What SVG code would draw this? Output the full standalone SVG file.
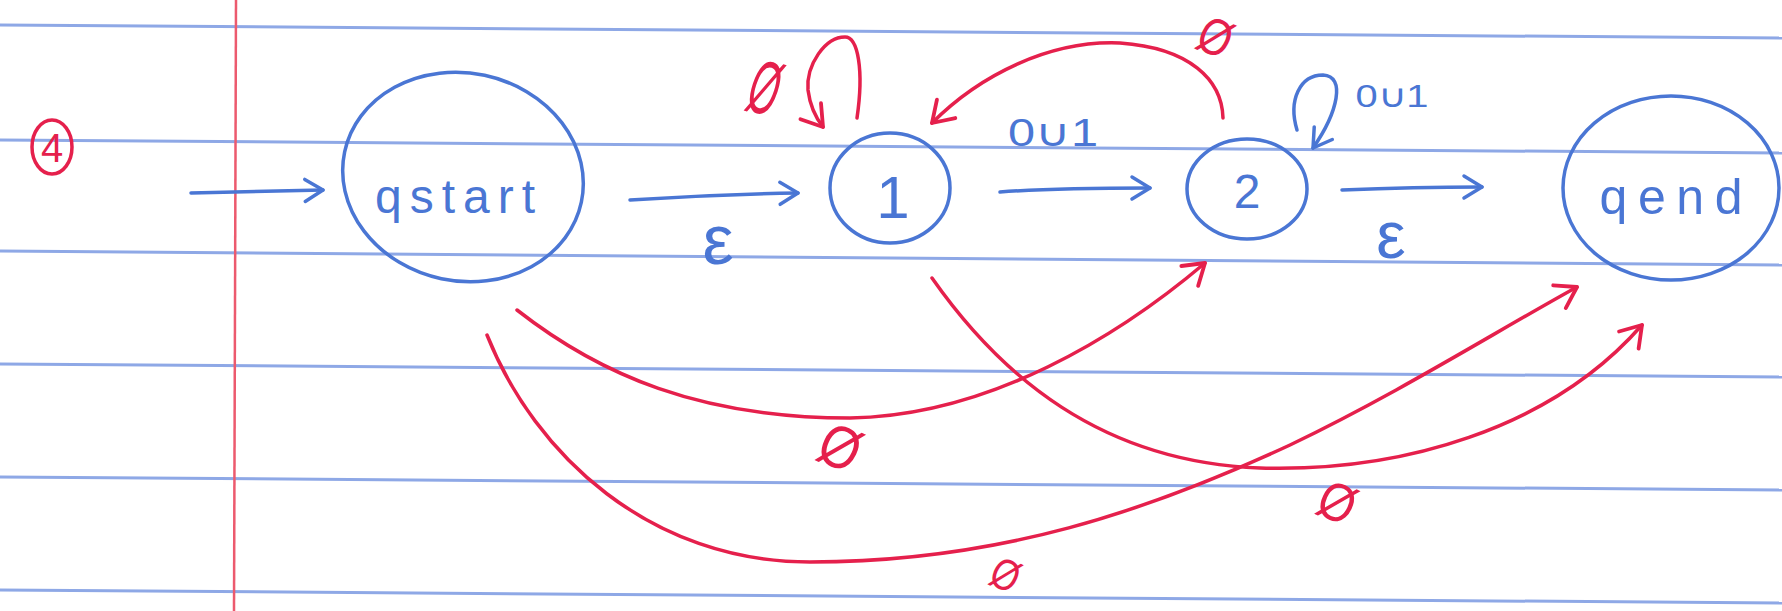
<svg xmlns="http://www.w3.org/2000/svg" width="1782" height="611" viewBox="0 0 1782 611">
<style>
.rule{stroke:#8ea8e6;stroke-width:3;fill:none}
.margin{stroke:#ec5a6e;stroke-width:2.5;fill:none}
.bl{stroke:#4a76d4;stroke-width:3.5;fill:none;stroke-linecap:round;stroke-linejoin:round}
.rd{stroke:#e5204c;stroke-width:3.5;fill:none;stroke-linecap:round;stroke-linejoin:round}
.tb{fill:#4a76d4;font-family:"Liberation Sans",Arial,sans-serif}
.tr{fill:#e5204c;font-family:"Liberation Sans",Arial,sans-serif}
</style>
<defs>
<marker id="ab" markerUnits="userSpaceOnUse" viewBox="-22 -14 26 28" markerWidth="26" markerHeight="28" refX="0" refY="0" orient="auto" overflow="visible">
<path d="M-18,-11 L0,0 L-18,11" fill="none" stroke="#4a76d4" stroke-width="3.5" stroke-linecap="round" stroke-linejoin="round"/>
</marker>
<marker id="ar" markerUnits="userSpaceOnUse" viewBox="-22 -14 26 28" markerWidth="26" markerHeight="28" refX="0" refY="0" orient="auto" overflow="visible">
<path d="M-20,-13 L0,0 L-20,13" fill="none" stroke="#e5204c" stroke-width="3.8" stroke-linecap="round" stroke-linejoin="round"/>
</marker>
</defs>
<rect x="0" y="0" width="1782" height="611" fill="#ffffff"/>
<g id="paper">
<line class="rule" x1="0" y1="25" x2="1782" y2="38"/>
<line class="rule" x1="0" y1="140" x2="1782" y2="153"/>
<line class="rule" x1="0" y1="251" x2="1782" y2="265"/>
<line class="rule" x1="0" y1="364" x2="1782" y2="377"/>
<line class="rule" x1="0" y1="477" x2="1782" y2="490"/>
<line class="rule" x1="0" y1="590" x2="1782" y2="603"/>
<line class="margin" x1="236" y1="0" x2="234" y2="611"/>
</g>
<g id="problem-number">
<ellipse cx="52" cy="147" rx="20" ry="27" class="rd" stroke-width="3"/>
<text class="tr" x="52" y="162" font-size="40" text-anchor="middle">4</text>
</g>
<g id="connectors">
<path class="bl" d="M191,193 L323,190" marker-end="url(#ab)"/>
<path class="bl" d="M630,200 C690,196 740,194 798,193" marker-end="url(#ab)"/>
<path class="bl" d="M1000,192 C1050,188 1100,188 1150,188" marker-end="url(#ab)"/>
<path class="bl" d="M1342,190 C1390,188 1440,187 1482,187" marker-end="url(#ab)"/>
<path class="bl" d="M1297,130 C1288,100 1300,75 1323,75 C1346,76 1338,112 1313,148" marker-end="url(#ab)"/>
<path class="rd" d="M857,118 C864,70 858,37 845,37 C825,37 806,65 808,90 C810,106 816,118 823,127" marker-end="url(#ar)"/>
<path class="rd" d="M1223,118 C1222,80 1190,48 1120,43 C1050,40 980,75 932,123" marker-end="url(#ar)"/>
<path class="rd" d="M517,310 C600,375 700,418 850,418 C990,416 1120,335 1205,263" marker-end="url(#ar)"/>
<path class="rd" d="M932,278 C1000,375 1100,462 1260,468 C1400,472 1550,430 1642,325" marker-end="url(#ar)"/>
<path class="rd" d="M487,335 C535,455 650,562 810,562 C1000,562 1150,510 1290,445 C1400,392 1490,335 1577,287" marker-end="url(#ar)"/>
</g>
<g id="labels">
<text class="tb" x="718" y="264" font-size="70" text-anchor="middle">ε</text>
<text class="tb" x="1053" y="146" font-size="38" text-anchor="middle" textLength="90" lengthAdjust="spacingAndGlyphs">0∪1</text>
<text class="tb" x="1391" y="258" font-size="66" text-anchor="middle">ε</text>
<text class="tb" x="1392" y="107" font-size="32" text-anchor="middle" textLength="73" lengthAdjust="spacingAndGlyphs">0∪1</text>
<g transform="translate(765,88) rotate(18) scale(0.5,1)"><text class="tr" x="0" y="26" font-size="76" text-anchor="middle">Ø</text></g>
<g transform="translate(1215,38) rotate(25) scale(0.8,1)"><text class="tr" x="0" y="17" font-size="52" text-anchor="middle">Ø</text></g>
<g transform="translate(840,448) rotate(25) scale(0.85,1)"><text class="tr" x="0" y="20" font-size="60" text-anchor="middle">Ø</text></g>
<g transform="translate(1337,503) rotate(25) scale(0.85,1)"><text class="tr" x="0" y="18" font-size="54" text-anchor="middle">Ø</text></g>
<g transform="translate(1006,574) rotate(25) scale(0.8,1)"><text class="tr" x="0" y="16" font-size="44" text-anchor="middle">Ø</text></g>
</g>
<g id="qstart">
<ellipse cx="463" cy="177" rx="121" ry="104" transform="rotate(12 463 177)" class="bl"/>
<text class="tb" x="455" y="213" font-size="48" text-anchor="middle" textLength="160" lengthAdjust="spacing">qstart</text>
</g>
<g id="node1">
<ellipse cx="890" cy="188" rx="60" ry="55" class="bl"/>
<text class="tb" x="893" y="218" font-size="60" text-anchor="middle">1</text>
</g>
<g id="node2">
<ellipse cx="1247" cy="189" rx="60" ry="50" class="bl"/>
<text class="tb" x="1247" y="208" font-size="48" text-anchor="middle">2</text>
</g>
<g id="qend">
<ellipse cx="1671" cy="188" rx="108" ry="92" class="bl"/>
<text class="tb" x="1671" y="214" font-size="50" text-anchor="middle" textLength="143" lengthAdjust="spacing">qend</text>
</g>
</svg>
